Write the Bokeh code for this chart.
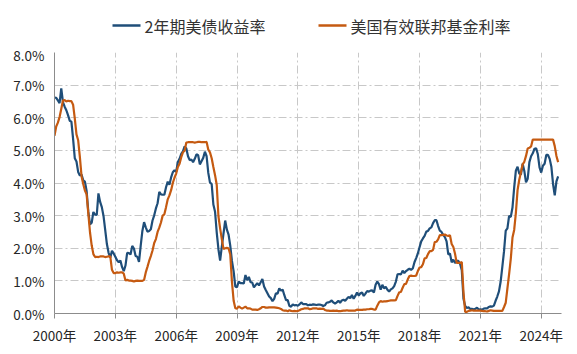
from bokeh.plotting import figure
from bokeh.models import FixedTicker, PrintfTickFormatter, Range1d
from bokeh.core.properties import value
from bokeh.layouts import column
from bokeh.embed import file_html
from bokeh.resources import INLINE

# monthly values, Jan 2000 .. Nov 2024 (percent)
treasury_2y = [
    6.62, 6.61, 6.53, 6.45, 6.90, 6.48, 6.34, 6.23, 6.08, 5.91, 5.88, 5.35,   # 2000
    4.76, 4.66, 4.34, 4.23, 4.26, 4.08, 4.04, 3.76, 3.12, 2.73, 2.78, 3.11,   # 2001
    3.03, 3.02, 3.68, 3.42, 3.26, 2.99, 2.56, 2.13, 1.86, 1.71, 1.92, 1.84,   # 2002
    1.74, 1.63, 1.57, 1.62, 1.42, 1.30, 1.47, 1.86, 1.85, 1.81, 2.07, 1.99,   # 2003
    1.76, 1.74, 1.58, 2.07, 2.53, 2.80, 2.64, 2.51, 2.53, 2.58, 2.85, 3.01,   # 2004
    3.22, 3.38, 3.73, 3.65, 3.64, 3.64, 3.87, 4.04, 3.95, 4.17, 4.33, 4.39,   # 2005
    4.35, 4.64, 4.74, 4.89, 4.97, 5.12, 5.06, 4.82, 4.70, 4.72, 4.64, 4.74,   # 2006
    4.88, 4.85, 4.57, 4.67, 4.77, 4.96, 4.82, 4.31, 4.01, 3.97, 3.34, 3.12,   # 2007
    2.48, 1.97, 1.62, 2.05, 2.45, 2.85, 2.57, 2.42, 2.08, 1.61, 1.29, 0.82,   # 2008
    0.81, 0.98, 0.93, 0.93, 0.92, 1.18, 1.02, 1.12, 0.96, 0.95, 0.80, 0.87,   # 2009
    0.93, 0.86, 0.96, 1.06, 0.83, 0.72, 0.62, 0.52, 0.47, 0.38, 0.45, 0.62,   # 2010
    0.61, 0.77, 0.70, 0.73, 0.56, 0.41, 0.41, 0.23, 0.21, 0.28, 0.25, 0.26,   # 2011
    0.24, 0.28, 0.34, 0.29, 0.29, 0.29, 0.25, 0.27, 0.26, 0.28, 0.27, 0.26,   # 2012
    0.27, 0.27, 0.26, 0.23, 0.25, 0.33, 0.34, 0.36, 0.40, 0.34, 0.30, 0.34,   # 2013
    0.39, 0.33, 0.40, 0.42, 0.39, 0.45, 0.51, 0.47, 0.57, 0.45, 0.54, 0.64,   # 2014
    0.55, 0.62, 0.64, 0.54, 0.61, 0.69, 0.67, 0.70, 0.71, 0.64, 0.88, 0.98,   # 2015
    0.90, 0.73, 0.88, 0.77, 0.82, 0.73, 0.67, 0.74, 0.77, 0.84, 0.98, 1.20,   # 2016
    1.21, 1.20, 1.31, 1.24, 1.30, 1.34, 1.37, 1.34, 1.38, 1.57, 1.70, 1.84,   # 2017
    2.03, 2.21, 2.30, 2.38, 2.51, 2.53, 2.61, 2.64, 2.77, 2.86, 2.86, 2.68,   # 2018
    2.54, 2.50, 2.41, 2.34, 2.21, 1.81, 1.84, 1.57, 1.65, 1.55, 1.61, 1.61,   # 2019
    1.52, 1.33, 0.45, 0.23, 0.17, 0.19, 0.14, 0.14, 0.13, 0.14, 0.18, 0.12,   # 2020
    0.13, 0.12, 0.15, 0.16, 0.16, 0.20, 0.22, 0.21, 0.24, 0.39, 0.52, 0.68,   # 2021
    0.98, 1.44, 1.91, 2.54, 2.61, 2.99, 2.96, 3.25, 3.86, 4.38, 4.50, 4.29,   # 2022
    4.26, 4.59, 4.37, 4.02, 4.13, 4.64, 4.82, 4.91, 5.05, 5.06, 4.88, 4.48,   # 2023
    4.32, 4.53, 4.59, 4.86, 4.86, 4.74, 4.50, 3.97, 3.62, 4.05, 4.20,         # 2024
]

fed_funds = [
    5.45, 5.73, 5.85, 6.02, 6.27, 6.53, 6.54, 6.50, 6.52, 6.51, 6.51, 6.40,   # 2000
    5.98, 5.49, 5.31, 4.80, 4.21, 3.97, 3.77, 3.65, 3.07, 2.49, 2.09, 1.82,   # 2001
    1.73, 1.74, 1.73, 1.75, 1.75, 1.75, 1.73, 1.74, 1.75, 1.75, 1.34, 1.24,   # 2002
    1.24, 1.26, 1.25, 1.26, 1.26, 1.22, 1.01, 1.03, 1.01, 1.01, 1.00, 0.98,   # 2003
    1.00, 1.01, 1.00, 1.00, 1.00, 1.03, 1.26, 1.43, 1.61, 1.76, 1.93, 2.16,   # 2004
    2.28, 2.50, 2.63, 2.79, 3.00, 3.04, 3.26, 3.50, 3.62, 3.78, 4.00, 4.16,   # 2005
    4.29, 4.49, 4.59, 4.79, 4.94, 4.99, 5.24, 5.25, 5.25, 5.25, 5.25, 5.24,   # 2006
    5.25, 5.26, 5.26, 5.25, 5.25, 5.25, 5.26, 5.02, 4.94, 4.76, 4.49, 4.24,   # 2007
    3.94, 2.98, 2.61, 2.28, 1.98, 2.00, 2.01, 2.00, 1.81, 0.97, 0.39, 0.16,   # 2008
    0.15, 0.22, 0.18, 0.15, 0.18, 0.21, 0.16, 0.16, 0.15, 0.12, 0.12, 0.12,   # 2009
    0.11, 0.13, 0.16, 0.20, 0.20, 0.18, 0.18, 0.19, 0.19, 0.19, 0.19, 0.18,   # 2010
    0.17, 0.16, 0.14, 0.10, 0.09, 0.09, 0.07, 0.10, 0.08, 0.07, 0.08, 0.07,   # 2011
    0.08, 0.10, 0.13, 0.14, 0.16, 0.16, 0.16, 0.13, 0.14, 0.16, 0.16, 0.16,   # 2012
    0.14, 0.15, 0.14, 0.15, 0.11, 0.09, 0.09, 0.08, 0.08, 0.09, 0.08, 0.09,   # 2013
    0.07, 0.07, 0.08, 0.09, 0.09, 0.10, 0.09, 0.09, 0.09, 0.09, 0.09, 0.12,   # 2014
    0.11, 0.11, 0.11, 0.12, 0.12, 0.13, 0.13, 0.14, 0.14, 0.12, 0.12, 0.24,   # 2015
    0.34, 0.38, 0.36, 0.37, 0.37, 0.38, 0.39, 0.40, 0.40, 0.40, 0.41, 0.54,   # 2016
    0.65, 0.66, 0.79, 0.90, 0.91, 1.04, 1.15, 1.16, 1.15, 1.15, 1.16, 1.30,   # 2017
    1.41, 1.42, 1.51, 1.69, 1.70, 1.82, 1.91, 1.91, 1.95, 2.19, 2.20, 2.27,   # 2018
    2.40, 2.40, 2.41, 2.42, 2.39, 2.38, 2.40, 2.13, 2.04, 1.83, 1.55, 1.55,   # 2019
    1.55, 1.58, 0.65, 0.05, 0.05, 0.08, 0.09, 0.10, 0.09, 0.09, 0.09, 0.09,   # 2020
    0.09, 0.08, 0.07, 0.07, 0.06, 0.08, 0.10, 0.09, 0.08, 0.08, 0.08, 0.08,   # 2021
    0.08, 0.08, 0.20, 0.33, 0.77, 1.21, 1.68, 2.33, 2.56, 3.08, 3.78, 4.10,   # 2022
    4.33, 4.57, 4.65, 4.83, 5.06, 5.08, 5.12, 5.33, 5.33, 5.33, 5.33, 5.33,   # 2023
    5.33, 5.33, 5.33, 5.33, 5.33, 5.33, 5.33, 5.33, 5.13, 4.83, 4.64,         # 2024
]

tick_years = [2000, 2003, 2006, 2009, 2012, 2015, 2018, 2021, 2024]
tick_labels = [f"{y}年" for y in tick_years]
y_ticks = [0, 1, 2, 3, 4, 5, 6, 7, 8]

series_names = ["2年期美债收益率", "美国有效联邦基金利率"]
series_colors = ["#1F4E79", "#C55A11"]

n = len(treasury_2y)
x_dates = [2000 + i / 12.0 for i in range(n)]

CJK = "Noto Sans CJK SC"
W, H = 577, 354
LEG_H = 44
FRAME_L, FRAME_R = 54, W - 16   # pixel edges of the plotting frame

# ---- legend strip: a small figure whose data units are page pixels ----
# (the column layout aligns this strip's frame with the chart's frame)
pl = figure(width=W, height=LEG_H, output_backend="svg", toolbar_location=None,
            x_range=Range1d(FRAME_L, FRAME_R), y_range=Range1d(0, LEG_H),
            min_border=0, min_border_left=FRAME_L, min_border_right=W - FRAME_R,
            x_axis_type=None, y_axis_type=None)
pl.outline_line_color = None
pl.xgrid.visible = False
pl.ygrid.visible = False
leg_x = [112, 318]          # left end of each legend key line
leg_y = LEG_H - 25          # vertical centre of the legend row
for name, color, x0 in zip(series_names, series_colors, leg_x):
    pl.segment(x0=[x0], y0=[leg_y], x1=[x0 + 28], y1=[leg_y], line_color=color, line_width=2.5)
    pl.text(x=[x0 + 32], y=[leg_y], text=[name], text_font=value(CJK),
            text_font_size="16px", text_color="#333333", text_baseline="middle",
            text_align="left")

# ---- main chart ----
p = figure(width=W, height=H - LEG_H, output_backend="svg", toolbar_location=None,
           x_range=Range1d(2000, 2025), y_range=Range1d(0, 8),
           min_border_left=FRAME_L, min_border_right=W - FRAME_R, min_border_top=52 - LEG_H,
           min_border_bottom=41)
p.outline_line_color = None

p.line(x_dates, treasury_2y, line_color=series_colors[0], line_width=2.2)
p.line(x_dates, fed_funds, line_color=series_colors[1], line_width=2.2)

p.xaxis.ticker = FixedTicker(ticks=tick_years)
p.xaxis.major_label_overrides = {y: l for y, l in zip(tick_years, tick_labels)}
p.xaxis.major_tick_out = 5
p.xaxis.major_tick_in = 0
p.xaxis.minor_tick_out = 0
p.xaxis.minor_tick_in = 0
p.xaxis.major_label_standoff = 6
p.yaxis.ticker = FixedTicker(ticks=y_ticks)
p.yaxis.formatter = PrintfTickFormatter(format="%.1f%%")
p.yaxis.major_tick_out = 0
p.yaxis.major_tick_in = 0
p.yaxis.minor_tick_out = 0
p.yaxis.minor_tick_in = 0
p.yaxis.major_label_standoff = 10
for ax in (p.xaxis, p.yaxis):
    ax.axis_line_color = "#8C8C8C"
    ax.major_tick_line_color = "#8C8C8C"
    ax.major_label_text_font = CJK
    ax.major_label_text_font_size = "13.5px"
    ax.major_label_text_color = "#262626"

for g in (p.xgrid, p.ygrid):
    g.grid_line_color = "#C8C8C8"
    g.grid_line_dash = "8 3 2 3"
    g.grid_line_width = 1

layout = column(pl, p, spacing=0)
open("out.html", "w").write(file_html(layout, INLINE))
